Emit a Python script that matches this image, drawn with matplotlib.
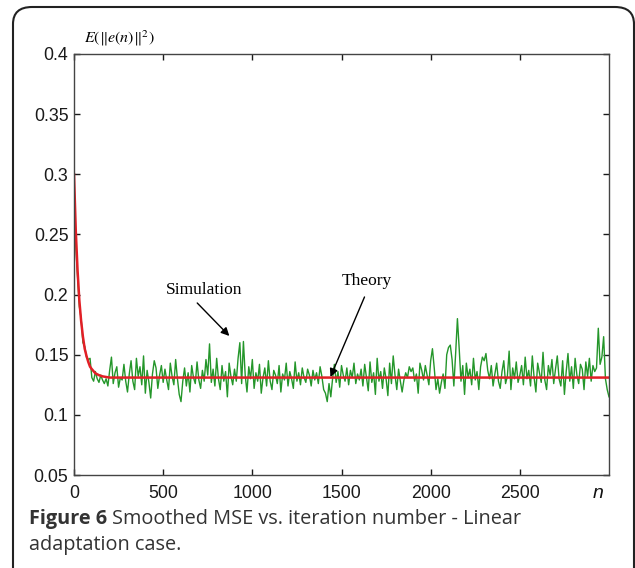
import matplotlib
matplotlib.use("Agg")
import matplotlib.pyplot as plt
import numpy as np
from matplotlib.patches import FancyBboxPatch

# theory curve
n_theory = [0, 10, 20, 30, 40, 50, 60, 70, 80, 90, 100, 120, 140, 160, 200, 3000]
mse_theory = [0.300, 0.253, 0.220, 0.195, 0.178, 0.165, 0.155, 0.149, 0.144, 0.140,
              0.138, 0.1345, 0.133, 0.132, 0.131, 0.131]

# simulation, one value every 10 iterations
sim_step = 10
mse_sim = [
    0.295, 0.240, 0.215, 0.190, 0.180, 0.160, 0.157, 0.148, 0.146, 0.147,
    0.131, 0.128, 0.136, 0.130, 0.127, 0.133, 0.129, 0.126, 0.130, 0.124,
    0.137, 0.148, 0.126, 0.135, 0.140, 0.123, 0.131, 0.129, 0.142, 0.128,
    0.119, 0.134, 0.145, 0.128, 0.121, 0.147, 0.132, 0.140, 0.125, 0.149,
    0.118, 0.137, 0.127, 0.114, 0.134, 0.145, 0.139, 0.122, 0.133, 0.141,
    0.127, 0.138, 0.129, 0.121, 0.143, 0.132, 0.125, 0.146, 0.130, 0.117,
    0.111, 0.128, 0.139, 0.124, 0.135, 0.119, 0.141, 0.131, 0.126, 0.144,
    0.129, 0.122, 0.137, 0.128, 0.146, 0.133, 0.159, 0.127, 0.138, 0.124,
    0.147, 0.130, 0.121, 0.141, 0.128, 0.136, 0.115, 0.143, 0.132, 0.125,
    0.138, 0.128, 0.147, 0.160, 0.126, 0.161, 0.133, 0.119, 0.140, 0.130,
    0.146, 0.122, 0.135, 0.128, 0.142, 0.118, 0.131, 0.139, 0.124, 0.145,
    0.128, 0.121, 0.137, 0.133, 0.126, 0.141, 0.119, 0.134, 0.129, 0.143,
    0.124, 0.136, 0.130, 0.122, 0.144, 0.128, 0.135, 0.125, 0.139, 0.131,
    0.127, 0.138, 0.133, 0.124, 0.137, 0.129, 0.135, 0.126, 0.140, 0.132,
    0.121, 0.118, 0.111, 0.126, 0.115, 0.130, 0.142, 0.127, 0.136, 0.123,
    0.141, 0.133, 0.128, 0.139, 0.125, 0.137, 0.131, 0.143, 0.126, 0.134,
    0.129, 0.138, 0.124, 0.142, 0.131, 0.120, 0.144, 0.127, 0.135, 0.117,
    0.147, 0.128, 0.136, 0.122, 0.139, 0.130, 0.116, 0.143, 0.126, 0.149,
    0.133, 0.121, 0.138, 0.128, 0.119, 0.129, 0.135, 0.131, 0.140, 0.136,
    0.139, 0.128, 0.134, 0.118, 0.143, 0.137, 0.129, 0.141, 0.133, 0.125,
    0.145, 0.155, 0.139, 0.121, 0.130, 0.118, 0.127, 0.134, 0.122, 0.150,
    0.156, 0.158, 0.146, 0.124, 0.151, 0.180, 0.155, 0.128, 0.141, 0.117,
    0.143, 0.131, 0.138, 0.125, 0.147, 0.129, 0.136, 0.121, 0.140, 0.148,
    0.145, 0.151, 0.137, 0.130, 0.141, 0.124, 0.134, 0.143, 0.128, 0.122,
    0.136, 0.145, 0.126, 0.132, 0.153, 0.121, 0.139, 0.130, 0.144, 0.127,
    0.133, 0.141, 0.125, 0.148, 0.130, 0.137, 0.124, 0.149, 0.131, 0.119,
    0.143, 0.135, 0.127, 0.152, 0.129, 0.121, 0.141, 0.133, 0.146, 0.126,
    0.138, 0.149, 0.130, 0.124, 0.145, 0.117, 0.136, 0.151, 0.128, 0.140,
    0.122, 0.147, 0.133, 0.126, 0.142, 0.138, 0.121, 0.144, 0.132, 0.147,
    0.128, 0.141, 0.136, 0.139, 0.172, 0.142, 0.148, 0.165, 0.130, 0.121,
    0.115,
]
n_sim = np.arange(len(mse_sim)) * sim_step

xticks = [0, 500, 1000, 1500, 2000, 2500]
yticks = [0.05, 0.1, 0.15, 0.2, 0.25, 0.3, 0.35, 0.4]
ytick_labels = ["0.05", "0.1", "0.15", "0.2", "0.25", "0.3", "0.35", "0.4"]

plt.rcParams['font.family'] = ['Liberation Sans', 'DejaVu Sans']
plt.rcParams['mathtext.fontset'] = 'stix'

fig = plt.figure(figsize=(6.35, 5.68), dpi=100)
ax = fig.add_axes([74/635, 1 - 475/568, (609 - 74)/635, (475 - 54)/568])

ax.plot(n_sim, mse_sim, color='#24962a', lw=1.0)
ax.plot(n_theory, mse_theory, color='#e21f26', lw=1.8)

ax.set_xlim(0, 3000)
ax.set_ylim(0.05, 0.4)
ax.set_xticks(xticks)
ax.set_yticks(yticks)
ax.set_yticklabels(ytick_labels)
ax.tick_params(direction='in', length=4, width=1, top=True, right=True,
               labelsize=12.8, colors='#1a1a1a')
ax.tick_params(axis='x', pad=7)
ax.tick_params(axis='y', pad=4)
for s in ax.spines.values():
    s.set_color('#444444')
    s.set_linewidth(1.0)

arrow = dict(arrowstyle='-|>', color='black', lw=1.0, mutation_scale=12,
             shrinkA=0, shrinkB=0)
ax.text(730, 0.204, 'Simulation', ha='center', va='center', fontsize=12.5,
        family='Liberation Serif')
ax.annotate('', xy=(871, 0.1656), xytext=(691, 0.193), arrowprops=arrow)
ax.text(1640, 0.211, 'Theory', ha='center', va='center', fontsize=12.5,
        family='Liberation Serif')
ax.annotate('', xy=(1438, 0.1315), xytext=(1629, 0.198), arrowprops=arrow)

fig.text(84/635, 1 - 38/568, r'$E(\Vert e(n)\Vert^{2})$', fontsize=11.5,
         ha='left', va='center')
fig.text(598/635, 1 - 494/568, 'n', fontsize=14, style='italic',
         ha='center', va='center', color='#111111')

# caption
cap_y = 1 - 519/568
t1 = fig.text(29/635, cap_y, 'Figure 6', fontsize=14.3, fontweight='bold',
              family='Open Sans', color='#333333', va='center', ha='left')
fig.canvas.draw()
bb = t1.get_window_extent()
fig.text(bb.x1/635 + 5/635, cap_y, 'Smoothed MSE vs. iteration number - Linear',
         fontsize=14.3, family='Open Sans', color='#333333', va='center', ha='left')
fig.text(29/635, 1 - 545/568, 'adaptation case.', fontsize=14.3,
         family='Open Sans', color='#333333', va='center', ha='left')

# rounded frame
frame = FancyBboxPatch((13/635, -0.2), (634 - 13)/635, 1.2 - 7/568,
                       boxstyle='round,pad=0,rounding_size=0.03',
                       transform=fig.transFigure, fill=False,
                       edgecolor='#222222', lw=1.5, clip_on=False)
fig.patches.append(frame)

fig.savefig('out.png', dpi=100)
